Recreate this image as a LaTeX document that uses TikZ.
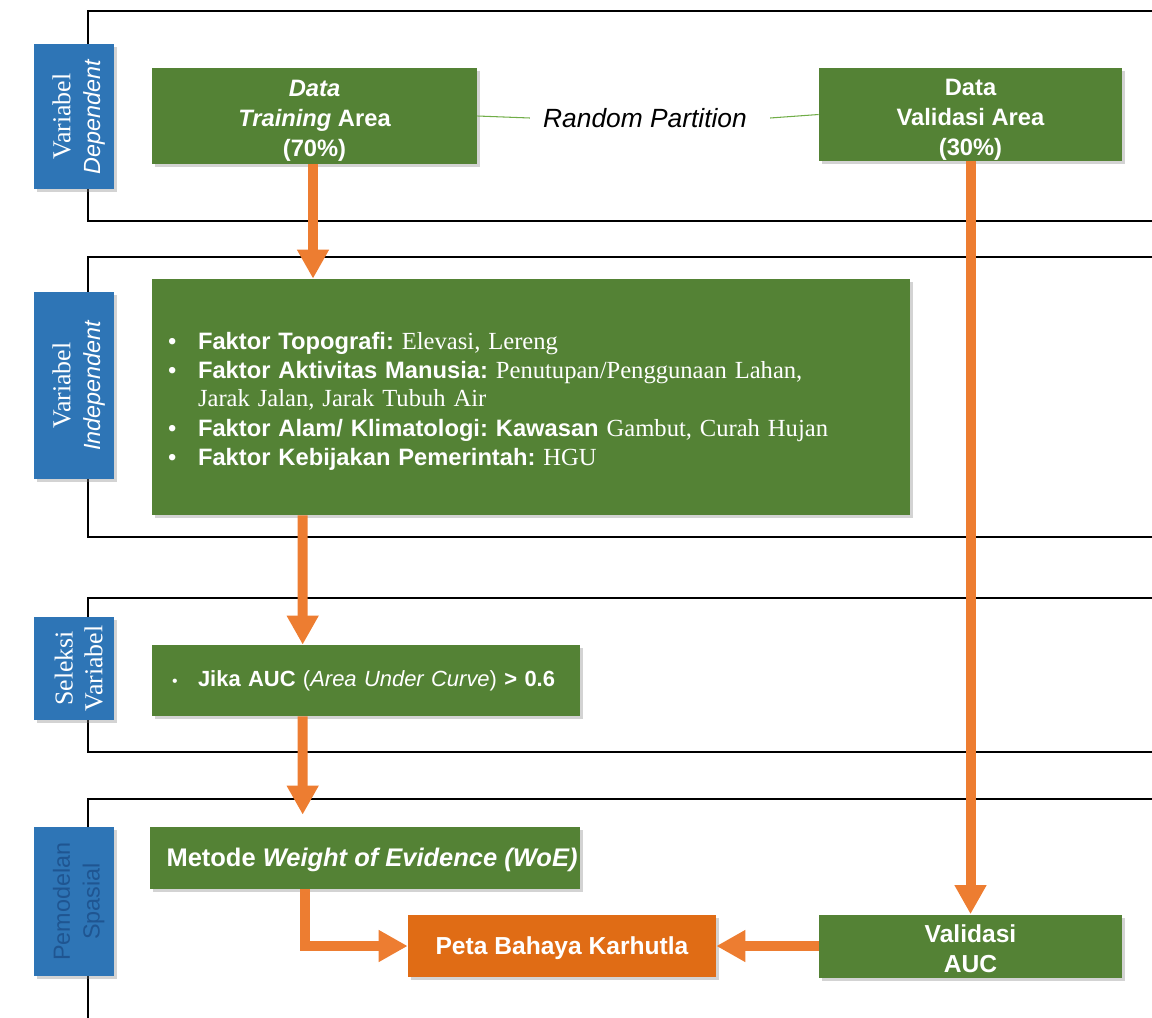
\documentclass[tikz,border=0pt]{standalone}
\usepackage{fontspec}
\setmainfont{Liberation Sans}
\newfontfamily\timesfont{Liberation Serif}
\usetikzlibrary{arrows.meta,shadows}

\definecolor{boxgreen}{HTML}{548235}
\definecolor{labblue}{HTML}{2E75B6}
\definecolor{labtext}{HTML}{1F5591}
\definecolor{arrorange}{HTML}{ED7D31}
\definecolor{mapred}{HTML}{E06C15}
\definecolor{partgreen}{HTML}{70AD47}

% extra room above the first line, so the text sits a bit lower
\newcommand{\upstrut}[1]{\rule{0pt}{#1}}
\newcommand{\serif}[1]{{\timesfont\fontsize{14}{16}\selectfont #1}}

\tikzset{
    frameline/.style={draw=black, line width=0.04cm},
    greenbox/.style={fill=boxgreen, text=white, inner sep=0pt, align=center,
        font=\bfseries\fontsize{13.5}{17}\selectfont,
        drop shadow={opacity=0.35, shadow xshift=0.06cm, shadow yshift=-0.06cm}},
    bluelabel/.style={fill=labblue, text=white, rotate=90, inner sep=0pt, align=center,
        minimum height=1.6cm, font=\fontsize{13.3}{17}\selectfont,
        drop shadow={opacity=0.35, shadow xshift=0.06cm, shadow yshift=-0.06cm}},
    flow/.style={draw=arrorange, line width=0.2cm, -{Triangle[length=0.58cm,width=0.6cm]}},
    partline/.style={draw=partgreen, line width=0.6pt}
}

\begin{document}
\frenchspacing
\begin{tikzpicture}[x=0.02cm, y=-0.02cm]
    \useasboundingbox (0,0) rectangle (1152,1017);

    % frames
    \draw[frameline] (1170,11) -- (88,11) -- (88,221) -- (1170,221);
    \draw[frameline] (1170,257) -- (88,257) -- (88,537) -- (1170,537);
    \draw[frameline] (1170,598) -- (88,598) -- (88,752) -- (1170,752);
    \draw[frameline] (1170,799) -- (88,799) -- (88,1040);

    % labels on the left
    \node[bluelabel, minimum width=2.9cm] (labdep) at (74,116.5)
        {\upstrut{15.6pt}{\timesfont\fontsize{14.7}{17}\selectfont Variabel}\\\textit{Dependent}};
    \node[bluelabel, minimum width=3.74cm] (labind) at (74,385.5)
        {\upstrut{15.6pt}{\timesfont\fontsize{14.7}{17}\selectfont Variabel}\\\textit{Independent}};
    \node[bluelabel, minimum width=2.06cm, font=\timesfont\fontsize{14.7}{17}\selectfont] (labsel) at (74,668.5)
        {\upstrut{15.6pt}Seleksi\\Variabel};
    \node[bluelabel, minimum width=2.98cm, text=labtext] (labmod) at (74,901.5)
        {\upstrut{15pt}Pemodelan\\Spasial};

    % boxes
    \node[greenbox, minimum width=6.5cm, minimum height=1.92cm] (train) at (314.5,116)
        {\upstrut{15pt}\textit{Data}\\\textit{Training} Area\\(70\%)};
    \node[greenbox, minimum width=6.06cm, minimum height=1.86cm] (valid) at (970.5,114.5)
        {\upstrut{15pt}Data\\Validasi Area\\(30\%)};
    \node[font=\itshape\fontsize{15}{18}\selectfont, inner xsep=0.26cm] (rp) at (645,118)
        {Random Partition};

    \node[greenbox, minimum width=15.16cm, minimum height=4.72cm, text width=14.52cm, align=left,
        font=\fontsize{13.5}{16}\selectfont] (indep) at (531,397)
        {\raisebox{-3pt}[\height][\depth]{\begin{tabular}{@{}p{0.6cm}@{}l@{}}
        \textbullet & \textbf{Faktor Topografi:} \serif{Elevasi, Lereng}\\
        \textbullet & \textbf{Faktor Aktivitas Manusia:} \serif{Penutupan/Penggunaan Lahan,}\\
                    & \serif{Jarak Jalan, Jarak Tubuh Air}\\[1pt]
        \textbullet & \textbf{Faktor Alam/ Klimatologi: Kawasan} \serif{Gambut, Curah Hujan}\\[1pt]
        \textbullet & \textbf{Faktor Kebijakan Pemerintah:} \serif{HGU}
        \end{tabular}}};

    \node[greenbox, minimum width=8.56cm, minimum height=1.42cm, text width=7.76cm, align=left,
        font=\fontsize{12.5}{15}\selectfont] (auc) at (366,680.5)
        {\makebox[0.52cm][l]{\small\textbullet}\textbf{Jika AUC} (\textit{Area Under Curve}) \textbf{> 0.6}};

    \node[greenbox, minimum width=8.6cm, minimum height=1.24cm, font=\bfseries\fontsize{14.5}{17}\selectfont] (woe) at (365,858)
        {\upstrut{13.2pt}\hspace*{0.28cm}Metode \textit{Weight of Evidence (WoE)}};
    \node[greenbox, fill=mapred, minimum width=6.16cm, minimum height=1.24cm, font=\bfseries\fontsize{14}{17}\selectfont] (peta) at (562,946)
        {\upstrut{12.8pt}Peta Bahaya Karhutla};
    \node[greenbox, minimum width=6.06cm, minimum height=1.26cm, font=\bfseries\fontsize{14}{17}\selectfont] (vauc) at (970.5,946)
        {\upstrut{13.2pt}Validasi\\AUC};

    % connectors
    \draw[partline] (train.east) -- (rp.west);
    \draw[partline] ([xshift=0.2cm]rp.east) -- (valid.west);

    \draw[flow] ([xshift=-0.03cm]train.south) -- ([xshift=-0.03cm]train.south |- indep.north);
    \draw[flow] ([xshift=3.02cm]indep.south west) -- ([xshift=3.02cm]auc.north west);
    \draw[flow, shorten >=0.24cm] ([xshift=3.02cm]auc.south west) -- ([xshift=3.06cm]woe.north west);
    \draw[flow] (valid.south) -- (vauc.north);
    \draw[flow] ([xshift=3.1cm]woe.south west) |- (peta.west);
    \draw[flow] (vauc.west) -- (peta.east);
\end{tikzpicture}
\end{document}
